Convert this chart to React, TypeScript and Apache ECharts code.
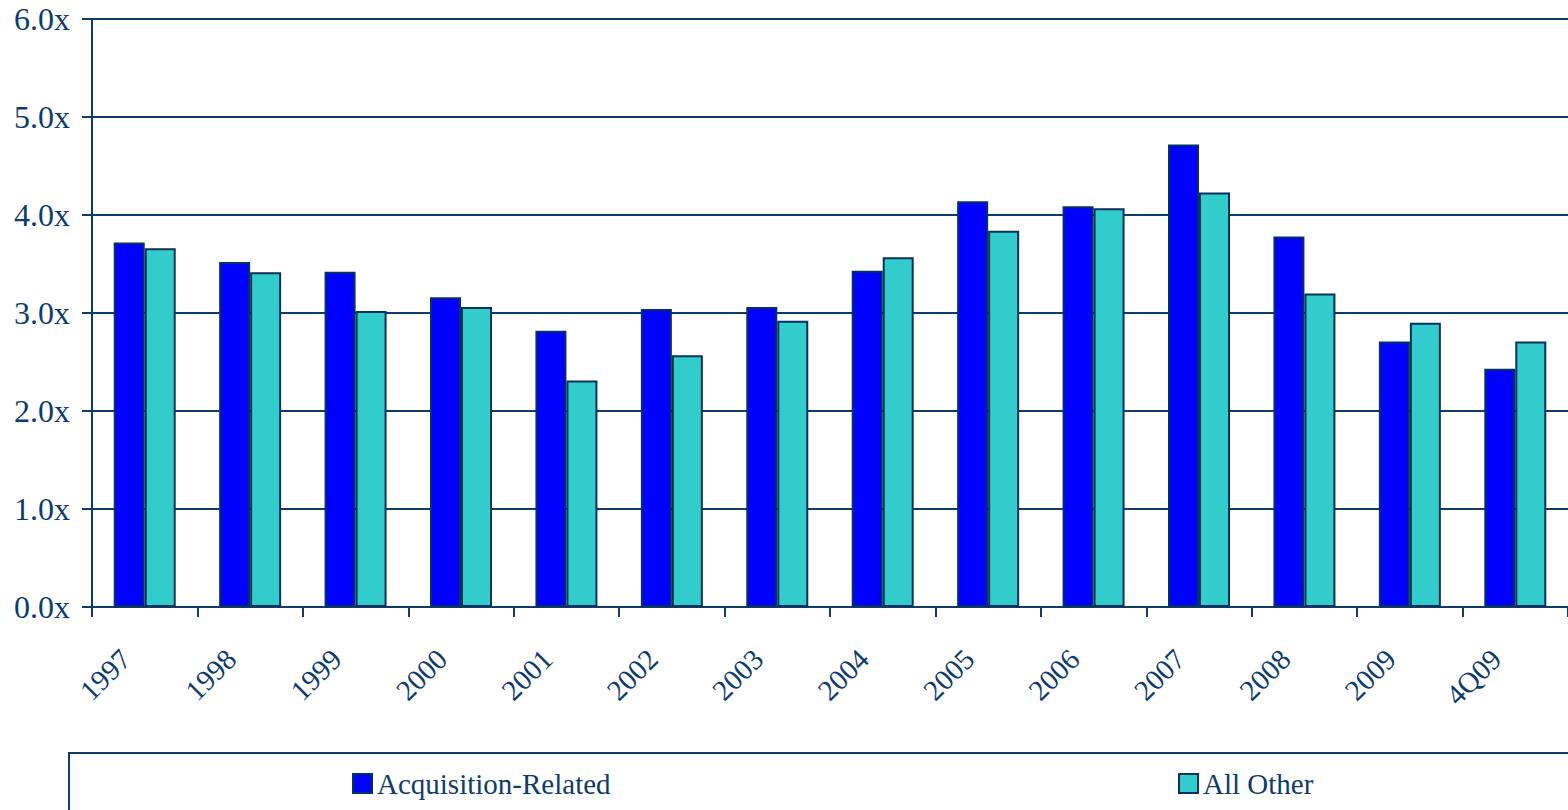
import React, { useEffect, useRef } from "react";
import * as echarts from "echarts";

const categories = ["1997", "1998", "1999", "2000", "2001", "2002", "2003", "2004", "2005", "2006", "2007", "2008", "2009", "4Q09"];
const acquisitionRelated = [3.72, 3.52, 3.42, 3.16, 2.82, 3.04, 3.06, 3.43, 4.14, 4.09, 4.72, 3.78, 2.71, 2.43];
const allOther = [3.66, 3.415, 3.02, 3.06, 2.31, 2.57, 2.92, 3.57, 3.84, 4.07, 4.23, 3.2, 2.9, 2.71];
const yTicks = { min: 0, max: 6, interval: 1 };

const NAVY = "#0f3b6b";
const FONT = "'Liberation Serif', 'Times New Roman', serif";

export default function App() {
  const ref = useRef<HTMLDivElement>(null);
  useEffect(() => {
    document.body.style.margin = "0";
    const chart = echarts.init(ref.current!, null, { renderer: "svg" });
    chart.setOption({
      animation: false,
      backgroundColor: "#ffffff",
      textStyle: { fontFamily: FONT },
      grid: { left: 92, right: 0, top: 19, bottom: 203, containLabel: false },
      legend: [
        {
          data: ["Acquisition-Related"],
          left: 347,
          top: 764,
          itemWidth: 19,
          itemHeight: 19,
          itemGap: 10,
          icon: "rect",
          textStyle: { fontFamily: FONT, fontSize: 29, color: NAVY },
        },
        {
          data: ["All Other"],
          left: 1173,
          top: 764,
          itemWidth: 19,
          itemHeight: 19,
          itemGap: 10,
          icon: "rect",
          textStyle: { fontFamily: FONT, fontSize: 29, color: NAVY },
        },
      ],
      graphic: [
        {
          type: "rect",
          shape: { x: 69, y: 753, width: 1520, height: 80 },
          style: { fill: "none", stroke: NAVY, lineWidth: 2 },
          silent: true,
        },
      ],
      xAxis: {
        type: "category",
        data: categories,
        boundaryGap: true,
        axisLine: { show: true, lineStyle: { color: NAVY, width: 2 } },
        axisTick: { show: true, length: 10, lineStyle: { color: NAVY, width: 2 } },
        axisLabel: {
          rotate: 45,
          interval: 0,
          margin: 28,
          padding: [0, 27, 0, 0],
          fontFamily: FONT,
          fontSize: 29,
          color: NAVY,
        },
      },
      yAxis: {
        type: "value",
        min: yTicks.min,
        max: yTicks.max,
        interval: yTicks.interval,
        axisLine: { show: true, lineStyle: { color: NAVY, width: 2 } },
        axisTick: { show: true, length: 10, lineStyle: { color: NAVY, width: 2 } },
        splitLine: { show: true, lineStyle: { color: NAVY, width: 2 } },
        axisLabel: {
          margin: 22,
          fontFamily: FONT,
          fontSize: 32,
          color: NAVY,
          formatter: (v: number) => v.toFixed(1) + "x",
        },
      },
      series: [
        {
          name: "Acquisition-Related",
          type: "bar",
          data: acquisitionRelated,
          barWidth: 31,
          barGap: "0%",
          itemStyle: { color: "#0000ff", borderColor: "#06305e", borderWidth: 2 },
        },
        {
          name: "All Other",
          type: "bar",
          data: allOther,
          barWidth: 31,
          barGap: "0%",
          itemStyle: { color: "#33cccc", borderColor: "#06305e", borderWidth: 2 },
        },
      ],
    });
    return () => chart.dispose();
  }, []);
  return <div ref={ref} style={{ width: 1568, height: 810, position: "fixed", left: 0, top: 0 }} />;
}
